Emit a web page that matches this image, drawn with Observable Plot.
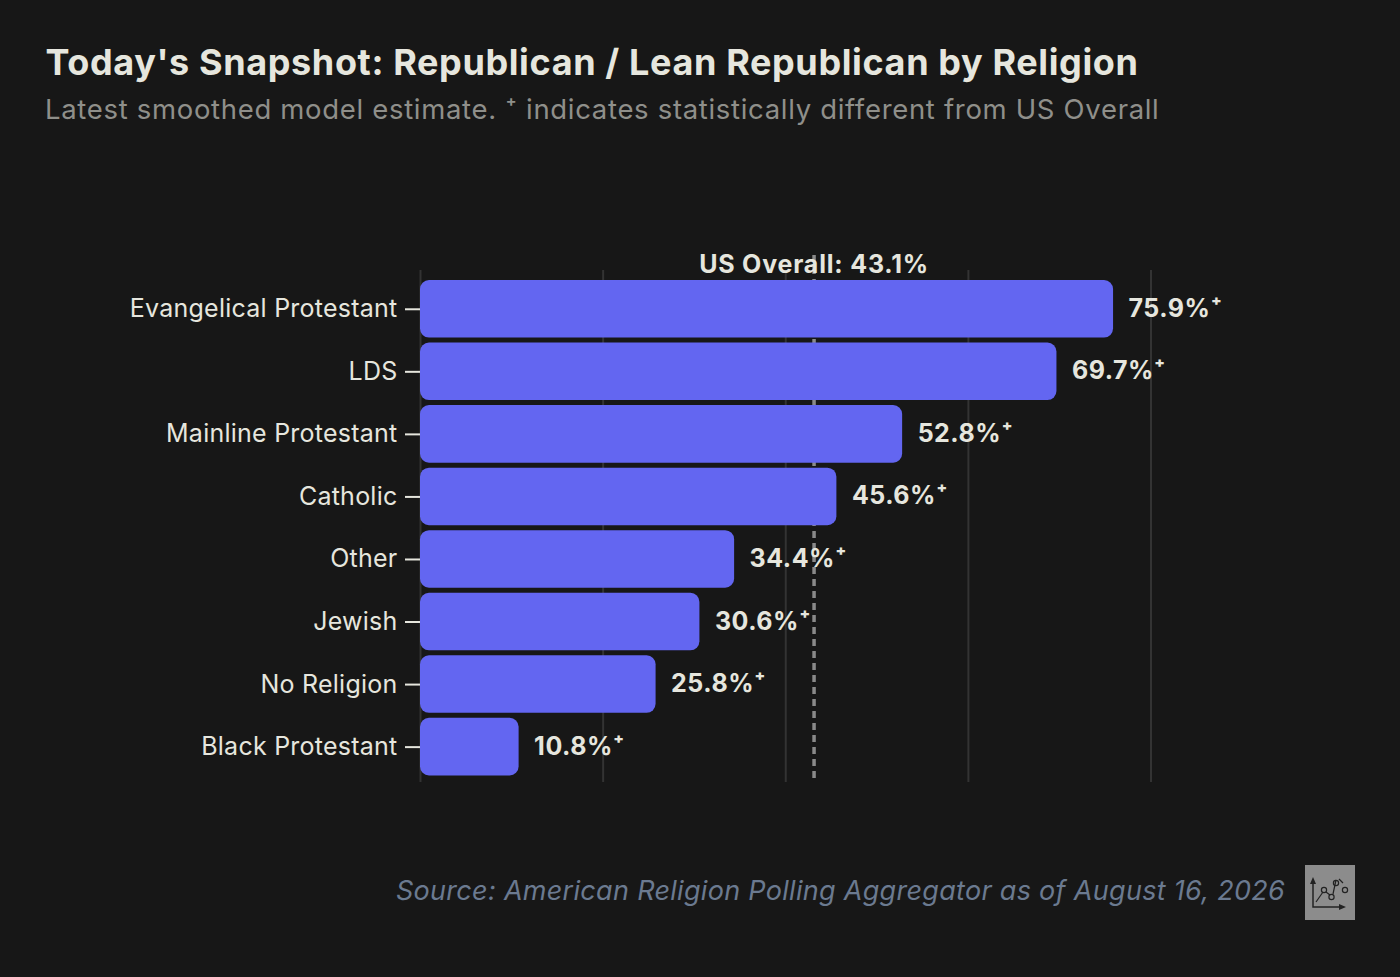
<!DOCTYPE html>
<html><head><meta charset="utf-8">
<script src="https://cdn.jsdelivr.net/npm/d3@7"></script>
<script src="https://cdn.jsdelivr.net/npm/@observablehq/plot@0.6"></script>
<style>
html,body{margin:0;padding:0;background:#171717;width:1400px;height:977px;overflow:hidden}
body{position:relative;font-family:Inter,"Noto Sans",sans-serif;font-optical-sizing:none;font-variation-settings:"opsz" 14}
svg text{font-optical-sizing:none;font-variation-settings:"opsz" 14}
.lab text{letter-spacing:.24px}
.val text{letter-spacing:.5px}
.ovr text{letter-spacing:.8px}
#t{position:absolute;left:45.500px;top:40px;font-size:36px;font-weight:700;color:#e6e6de;white-space:nowrap;letter-spacing:.62px;line-height:44px}
#s{position:absolute;left:45px;top:92px;font-size:27.5px;color:#8f8f8a;white-space:nowrap;letter-spacing:.68px}
#c{position:absolute;left:0;top:230px}
#f{position:absolute;right:115px;top:874px;font-size:27px;font-style:italic;color:#6b7a90;white-space:nowrap;letter-spacing:.3px}
#i{position:absolute;left:1305px;top:865px;width:50px;height:55px;background:#8c8c8c}
</style></head><body>
<div id="t">Today's Snapshot: Republican / Lean Republican by Religion</div>
<div id="s">Latest smoothed model estimate. ⁺ indicates statistically different from US Overall</div>
<div id="c"></div>
<div id="f">Source: American Religion Polling Aggregator as of August 16, 2026</div>
<div id="i"><svg width="50" height="55" viewBox="0 0 50 55" fill="none" stroke="#222" stroke-width="1.2">
<path d="M8 15V42H38" stroke-width="1.5"/><path d="M8 12l-3 7h6zM41 42l-7-3v6z" fill="#222" stroke="none"/>
<path d="M11 37l7-10M21 27l4 3M28 29l3-14M34 14l4 4"/>
<circle cx="19" cy="25" r="2.600"/><circle cx="26.500" cy="32" r="2.600"/><circle cx="31" cy="18" r="2.600"/><circle cx="40" cy="25" r="2.600"/></svg></div>
<script>
const religions=["Evangelical Protestant","LDS","Mainline Protestant","Catholic","Other","Jewish","No Religion","Black Protestant"];
const shares=[75.9,69.7,52.8,45.6,34.4,30.6,25.8,10.8];
const overall=43.1;
const gridTicks=[0,20,40,60,80];
const data=religions.map((r,i)=>({r,v:shares[i]}));
const chart=Plot.plot({
 width:1400,height:560,marginLeft:420,marginRight:249.5,marginTop:45,marginBottom:9.6,
 style:{background:"transparent",color:"#e6e6de",fontFamily:"Inter,sans-serif",fontSize:"25px"},
 x:{domain:[0,80],axis:null},
 y:{domain:religions,padding:0.08,axis:null,round:false},
 marks:[
  Plot.ruleX(gridTicks,{stroke:"#333",strokeWidth:2,insetTop:-5,insetBottom:-1.5}),
  Plot.ruleX([overall],{stroke:"#8a8a8a",strokeWidth:3.5,strokeDasharray:"7,5",insetTop:-20,insetBottom:-1.5}),
  Plot.barX(data,{x:"v",y:"r",fill:"#6366f1",rx:9}),
  Plot.axisY({tickSize:15,tickPadding:8,label:null,fontSize:25,stroke:"#e6e6de",strokeWidth:2,className:"lab"}),
  Plot.text(data,{x:"v",y:"r",text:d=>d.v.toFixed(1)+"%⁺",dx:15,dy:-0.5,textAnchor:"start",fontWeight:700,fontSize:25,fill:"#e6e6de",className:"val"}),
  Plot.text([overall],{x:d=>d,frameAnchor:"top",dy:-20.5,text:d=>"US Overall: "+d+"%",fontWeight:700,fontSize:25,fill:"#e6e6de",className:"ovr"})
 ]
});
document.getElementById("c").appendChild(chart);
</script></body></html>
